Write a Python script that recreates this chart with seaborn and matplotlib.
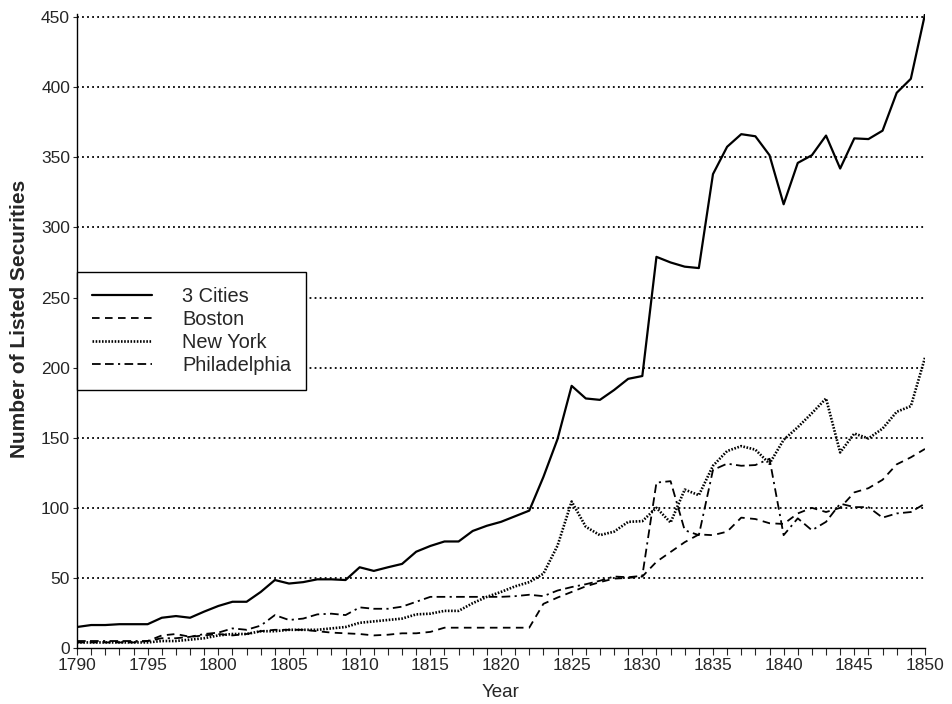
import numpy as np
import pandas as pd
import seaborn as sns
import matplotlib.pyplot as plt
from matplotlib.ticker import MultipleLocator

# values
years = list(range(1790, 1851))

three_cities = [15, 16.4, 16.4, 17, 17, 17, 21.6, 22.8, 21.6, 26,
                30, 33, 33, 40, 48.5, 46, 47, 49, 49, 48.5,
                57.6, 55, 57.6, 60, 68.7, 72.8, 76, 76, 83.5, 87.2,
                90, 94, 98, 122, 149, 187, 178, 177, 184, 192,
                194, 279, 275, 272, 271, 338, 357.5, 366.5, 365, 351.5,
                316.5, 346, 351.5, 365.5, 342, 363.5, 363, 369, 396, 406,
                452]

boston = [4, 4, 4, 4, 4, 5, 9, 10, 8, 9,
          10, 9, 10, 12, 13, 13, 13, 12, 11, 10.5,
          10, 9, 9.5, 10.5, 10.5, 11.5, 14.5, 14.5, 14.5, 14.5,
          14.5, 14.5, 14.5, 31.5, 36, 40, 44, 47, 49.5, 50,
          51, 61.5, 68.5, 75.5, 81, 80.5, 83, 93, 92, 89,
          88.5, 96, 100, 97, 100, 111, 114, 120, 131, 136,
          142]

new_york = [4, 4, 4, 4, 4, 4, 5, 5, 6, 7,
            9, 10, 10, 12, 12, 13, 13, 13, 14, 15,
            18, 19, 20, 21, 24, 24.5, 26.5, 26.5, 32, 36.5,
            40, 44, 47, 53, 73, 104.5, 86.5, 80.5, 83, 90,
            90.5, 100, 89.5, 113, 109, 130, 140.5, 144, 141.5, 131.5,
            148.5, 157.5, 167.5, 178, 139.5, 153, 149.5, 156.5, 168.5, 172.5,
            207]

philadelphia = [5, 5, 5, 5, 5, 5, 7, 7, 8, 10,
                11, 14, 13, 16, 23.5, 20, 21, 24, 24.5, 23.5,
                29, 28, 28, 29.5, 33, 36.5, 36.5, 36.5, 36.5, 36.5,
                36.5, 37, 38, 37, 41, 43.5, 45.5, 48, 51, 50.5,
                51.5, 118, 119, 84, 80.5, 127, 131.5, 130, 130.5, 135,
                80.5, 92.5, 84, 90, 103, 100.5, 100.5, 93, 96, 97,
                103]

series = {
    "3 Cities": (three_cities, "-", 1.6),
    "Boston": (boston, (0, (4.2, 3.0)), 1.3),
    "New York": (new_york, (0, (0.6, 0.6)), 1.9),
    "Philadelphia": (philadelphia, (0, (4.8, 2.4, 4.8, 2.4, 1.2, 2.4)), 1.3),
}

sns.set_style("white")
plt.rcParams['font.family'] = ['Liberation Sans', 'DejaVu Sans']

fig = plt.figure(figsize=(9.52, 7.04), dpi=100)
ax = fig.add_axes([0.0809, 0.0795, 0.8907, 0.9002])

for name, (vals, ls, lw) in series.items():
    df = pd.DataFrame({"Year": years, "Count": vals})
    sns.lineplot(data=df, x="Year", y="Count", ax=ax, color="black",
                 linestyle=ls, linewidth=lw, label=name)

ax.set_xlim(1790, 1850)
ax.set_ylim(0, 452)
ax.xaxis.set_major_locator(MultipleLocator(5))
ax.xaxis.set_minor_locator(MultipleLocator(1))
ax.yaxis.set_major_locator(MultipleLocator(50))

for y in range(50, 451, 50):
    ax.axhline(y, color="black", linestyle=(0, (1, 1.8)), linewidth=1.3, zorder=0)

for s in ["top", "right"]:
    ax.spines[s].set_visible(False)
for s in ["left", "bottom"]:
    ax.spines[s].set_color("black")
    ax.spines[s].set_linewidth(1.0)

ax.tick_params(axis="x", which="both", direction="out", length=5, width=0.8,
               bottom=True, labelsize=12.5, pad=2)
ax.tick_params(axis="y", which="major", direction="out", length=3, width=0.8,
               left=True, labelsize=12.5, pad=2)

ax.set_xlabel("Year", fontsize=13.5, labelpad=8)
ax.set_ylabel("Number of Listed Securities", fontsize=15, fontweight="bold")
ax.yaxis.set_label_coords(-0.057, 0.52)

leg = ax.legend(loc="upper left", bbox_to_anchor=(0.0, 0.593), borderaxespad=0,
                frameon=True, fancybox=False, edgecolor="black", fontsize=14.4,
                handlelength=3.0, handletextpad=1.5, borderpad=0.75,
                labelspacing=0.2)
leg.get_frame().set_linewidth(1.0)
leg.get_frame().set_alpha(1)

plt.savefig("out.png", dpi=100)
